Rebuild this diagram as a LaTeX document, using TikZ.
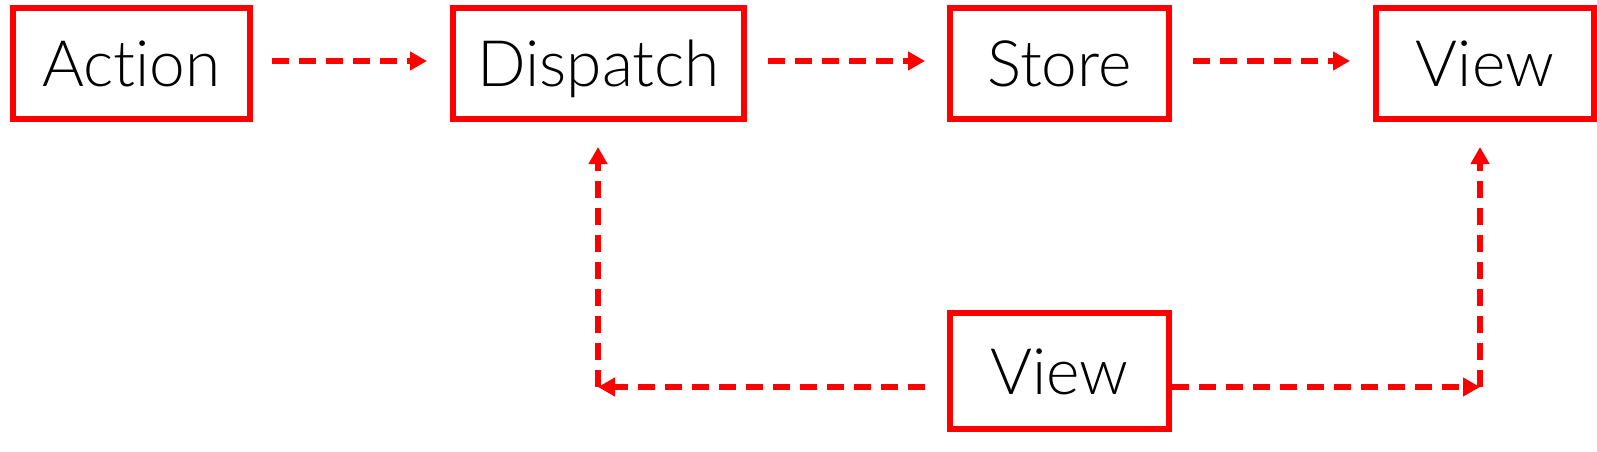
\documentclass[tikz,border=0pt]{standalone}
\usepackage{fontspec}
\setmainfont{Lato}[UprightFont=* Light, Ligatures=NoCommon]
\usetikzlibrary{arrows.meta, calc}

\begin{document}
\begin{tikzpicture}[x=1pt, y=-1pt,
    box/.style={draw=red, line width=6pt, minimum height=111pt, inner sep=0pt,
      text height=46pt, text depth=0pt, font=\fontsize{64}{70}\selectfont},
    flow/.style={red, line width=6pt, dash pattern=on 17pt off 10pt,
      -{Triangle[length=17pt, width=18pt]}}]
  \useasboundingbox (0,0) rectangle (1597,452);
  % top row
  \node[box, minimum width=237pt] (action) at (131.5,63.5) {Action};
  \node[box, minimum width=291pt] (dispatch) at (598.5,63.5) {Dispatch};
  \node[box, minimum width=219pt] (store) at (1059.5,63.5) {Store};
  \node[box, minimum width=218pt] (viewT) at (1485,63.5) {View};
  % bottom
  \node[box, minimum width=219pt, minimum height=116pt] (viewB) at (1059.5,371) {View};
  \coordinate (cornerL) at (598,387);
  \coordinate (cornerR) at (1480,387);

  \draw[flow] ($(action.east)+(19,-2.5)$) -- ($(dispatch.west)+(-23,-2.5)$);
  \draw[flow] ($(dispatch.east)+(21,-2.5)$) -- ($(store.west)+(-22,-2.5)$);
  \draw[flow] ($(store.east)+(21,-2.5)$) -- ($(viewT.west)+(-23,-2.5)$);

  \draw[flow] ($(viewB.west)+(-22,16)$) -- (cornerL);
  \draw[flow] (cornerL) -- ($(cornerL |- dispatch.south)+(0,25)$);
  \draw[flow] ($(viewB.east)+(0,16)$) -- (cornerR);
  \draw[flow] (cornerR) -- ($(cornerR |- viewT.south)+(0,25)$);
\end{tikzpicture}
\end{document}
